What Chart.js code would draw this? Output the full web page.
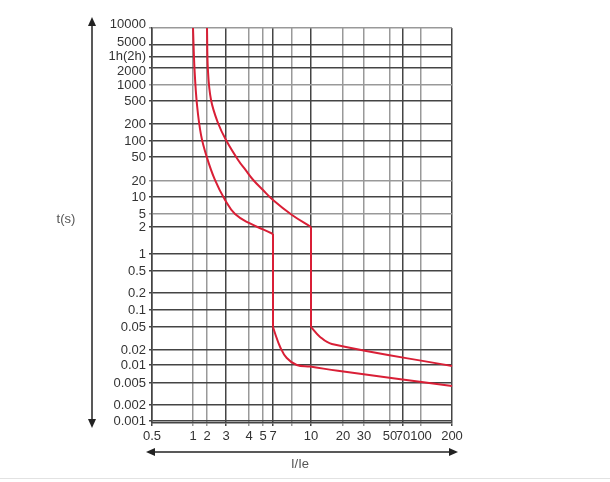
<!DOCTYPE html>
<html>
<head>
<meta charset="utf-8">
<script src="https://cdn.jsdelivr.net/npm/chart.js@4.4.0/dist/chart.umd.min.js"></script>
<style>
  html, body { margin: 0; padding: 0; background: #fff; }
  #wrap { width: 610px; height: 482px; position: relative; }
</style>
</head>
<body>
<div id="wrap"><canvas id="chart"></canvas></div>
<script>
// tick values and labels (I/Ie and t in seconds)
const xTickValues = [0.5, 1, 2, 3, 4, 5, 7, 8, 10, 20, 30, 50, 70, 100, 200];
const xTickLabels = ['0.5', '1', '2', '3', '4', '5', '7', '', '10', '20', '30', '50', '70', '100', '200'];
const yTickValues = [0.001, 0.002, 0.005, 0.01, 0.02, 0.05, 0.1, 0.2, 0.5, 1, 2, 5, 10, 20, 50, 100, 200, 500, 1000, 2000, 3600, 5000, 10000];
const yTickLabels = ['0.001', '0.002', '0.005', '0.01', '0.02', '0.05', '0.1', '0.2', '0.5', '1', '2', '5', '10', '20', '50', '100', '200', '500', '1000', '2000', '1h(2h)', '5000', '10000'];

// lower curve, the drop is between points 10 and 11
const curveAI = [1.0, 1.08, 1.22, 1.49, 1.95, 2.37, 2.94, 3.36, 4.06, 5, 7, 7, 7.1, 7.35, 7.71, 8.46, 9.9, 17.9, 200];
const curveAT = [10000, 1850, 426, 127, 52, 20.8, 8.85, 5, 2.56, 1.88, 1.67, 0.05, 0.039, 0.023, 0.0138, 0.01, 0.0094, 0.008, 0.0044];
// upper curve, the drop is between points 11 and 12
const curveBI = [2, 2.04, 2.18, 2.53, 3, 3.49, 3.83, 4.28, 5, 7, 8, 10, 10, 12.1, 15.7, 200];
const curveBT = [10000, 1850, 522, 208, 104, 44.6, 30.5, 20.8, 13.5, 8.85, 4.66, 2, 0.05, 0.034, 0.0254, 0.0096];

// where each grid line sits along its axis (0..1), the paper grid is not evenly spaced
const xGridPos = [152, 193, 207, 226, 249, 263, 273, 292, 311, 343, 364, 390, 403, 421, 452].map(p => (p - 152) / 300);
const yGridPos = [421, 405, 383, 365, 350, 327, 310, 293, 271, 254, 227, 214, 197, 181, 157, 141, 124, 101, 85, 68, 57, 45, 28].map(p => (423 - p) / 395);
// small vertical nudges of some y labels (px), as on the paper
const yLabelShift = [0, 0, 0, 0, 0, 0, 0, 0, 0, 0, 0, 0, 0, 0, 0, 0, 0, 0, 0, 3, -1, -3, -4];

const xDark = [1, 0, 0, 1, 0, 0, 1, 0, 1, 0, 0, 0, 1, 0, 1];
const yDark = [1, 1, 1, 1, 1, 1, 1, 1, 1, 1, 1, 0, 1, 0, 1, 1, 1, 1, 0, 1, 1, 1, 0];

function warp(v, vals, pos) {
    let i = 0;
    while (i < vals.length - 2 && v > vals[i + 1]) i++;
    const t = Math.log(v / vals[i]) / Math.log(vals[i + 1] / vals[i]);
    return pos[i] + t * (pos[i + 1] - pos[i]);
}

// scale that places values between the paper grid lines
class PaperScale extends Chart.LinearScale {
    determineDataLimits() {
        const vals = this.options.vals;
        this.min = vals[0];
        this.max = vals[vals.length - 1];
    }
    buildTicks() {
        return this.options.vals.map(v => ({ value: v }));
    }
    getPixelForValue(v) {
        return this.getPixelForDecimal(warp(v, this.options.vals, this.options.pos));
    }
}
PaperScale.id = 'paper';
PaperScale.defaults = {};
Chart.register(PaperScale);

const family = '"Liberation Sans", Arial, sans-serif';

const arrows = {
    id: 'arrows',
    afterDraw(chart) {
        const ctx = chart.ctx;
        const a = chart.chartArea;
        ctx.save();
        ctx.strokeStyle = '#222';
        ctx.fillStyle = '#222';
        ctx.lineWidth = 1.5;

        function head(x, y, dx, dy) {
            ctx.beginPath();
            ctx.moveTo(x, y);
            ctx.lineTo(x - dx * 9 + dy * 4, y - dy * 9 + dx * 4);
            ctx.lineTo(x - dx * 9 - dy * 4, y - dy * 9 - dx * 4);
            ctx.closePath();
            ctx.fill();
        }
        // y arrow
        const ax = a.left - 60;
        ctx.beginPath();
        ctx.moveTo(ax, a.top - 6);
        ctx.lineTo(ax, a.bottom + 1);
        ctx.stroke();
        head(ax, a.top - 11, 0, -1);
        head(ax, a.bottom + 5, 0, 1);
        // x arrow
        const ay = a.bottom + 29;
        ctx.beginPath();
        ctx.moveTo(a.left - 2, ay);
        ctx.lineTo(a.right + 2, ay);
        ctx.stroke();
        head(a.left - 6, ay, -1, 0);
        head(a.right + 6, ay, 1, 0);

        ctx.fillStyle = '#555';
        ctx.font = '13px ' + family;
        ctx.textAlign = 'center';
        ctx.textBaseline = 'middle';
        ctx.fillText('t(s)', ax - 26, 219);
        ctx.fillText('I/Ie', (a.left + a.right) / 2 - 2, ay + 12);

        // page edge line
        ctx.strokeStyle = '#e2e2e2';
        ctx.lineWidth = 1;
        ctx.beginPath();
        ctx.moveTo(0, 478.5);
        ctx.lineTo(610, 478.5);
        ctx.stroke();
        ctx.restore();
    }
};

// split a curve into its bent part, the vertical drop and the tail
function curveSets(xs, ys, cut) {
    const pts = xs.map((x, i) => ({ x: x, y: ys[i] }));
    const parts = [pts.slice(0, cut + 1), pts.slice(cut, cut + 2), pts.slice(cut + 1)];
    return parts.map((p, k) => ({
        data: p,
        borderColor: '#d91f36',
        borderWidth: 2,
        pointRadius: 0,
        tension: k === 1 ? 0 : 0.4
    }));
}

new Chart(document.getElementById('chart'), {
    type: 'line',
    data: {
        datasets: curveSets(curveAI, curveAT, 10).concat(curveSets(curveBI, curveBT, 11))
    },
    options: {
        responsive: true,
        maintainAspectRatio: false,
        animation: false,
        layout: { padding: { top: 28, right: 158, bottom: 0, left: 0 } },
        plugins: {
            legend: { display: false },
            tooltip: { enabled: false }
        },
        scales: {
            x: {
                type: 'paper',
                vals: xTickValues,
                pos: xGridPos,
                afterFit: s => { s.height = 59; },
                grid: {
                    color: c => xDark[c.index] ? '#444' : '#999',
                    lineWidth: 1.5,
                    tickLength: 3
                },
                border: { color: '#444', width: 1.5 },
                ticks: {
                    autoSkip: false,
                    maxRotation: 0,
                    minRotation: 0,
                    padding: 3,
                    color: '#333',
                    font: { family: family, size: 13 },
                    callback: (v, i) => xTickLabels[i]
                }
            },
            y: {
                type: 'paper',
                vals: yTickValues,
                pos: yGridPos,
                afterFit: s => { s.width = 152; },
                grid: {
                    color: c => yDark[c.index] ? '#444' : '#999',
                    lineWidth: 1.5,
                    tickLength: 3
                },
                border: { color: '#444', width: 1.5 },
                ticks: {
                    autoSkip: false,
                    padding: 3,
                    color: '#333',
                    font: c => {
                        const s = yLabelShift[c.index] || 0;
                        return s ? { family: family, size: 13, lineHeight: (2 * Math.abs(s)) / 13 } : { family: family, size: 13 };
                    },
                    callback: (v, i) => {
                        const s = yLabelShift[i];
                        if (s > 0) return ['', yTickLabels[i]];
                        if (s < 0) return [yTickLabels[i], ''];
                        return yTickLabels[i];
                    }
                }
            }
        }
    },
    plugins: [arrows]
});
</script>
</body>
</html>
